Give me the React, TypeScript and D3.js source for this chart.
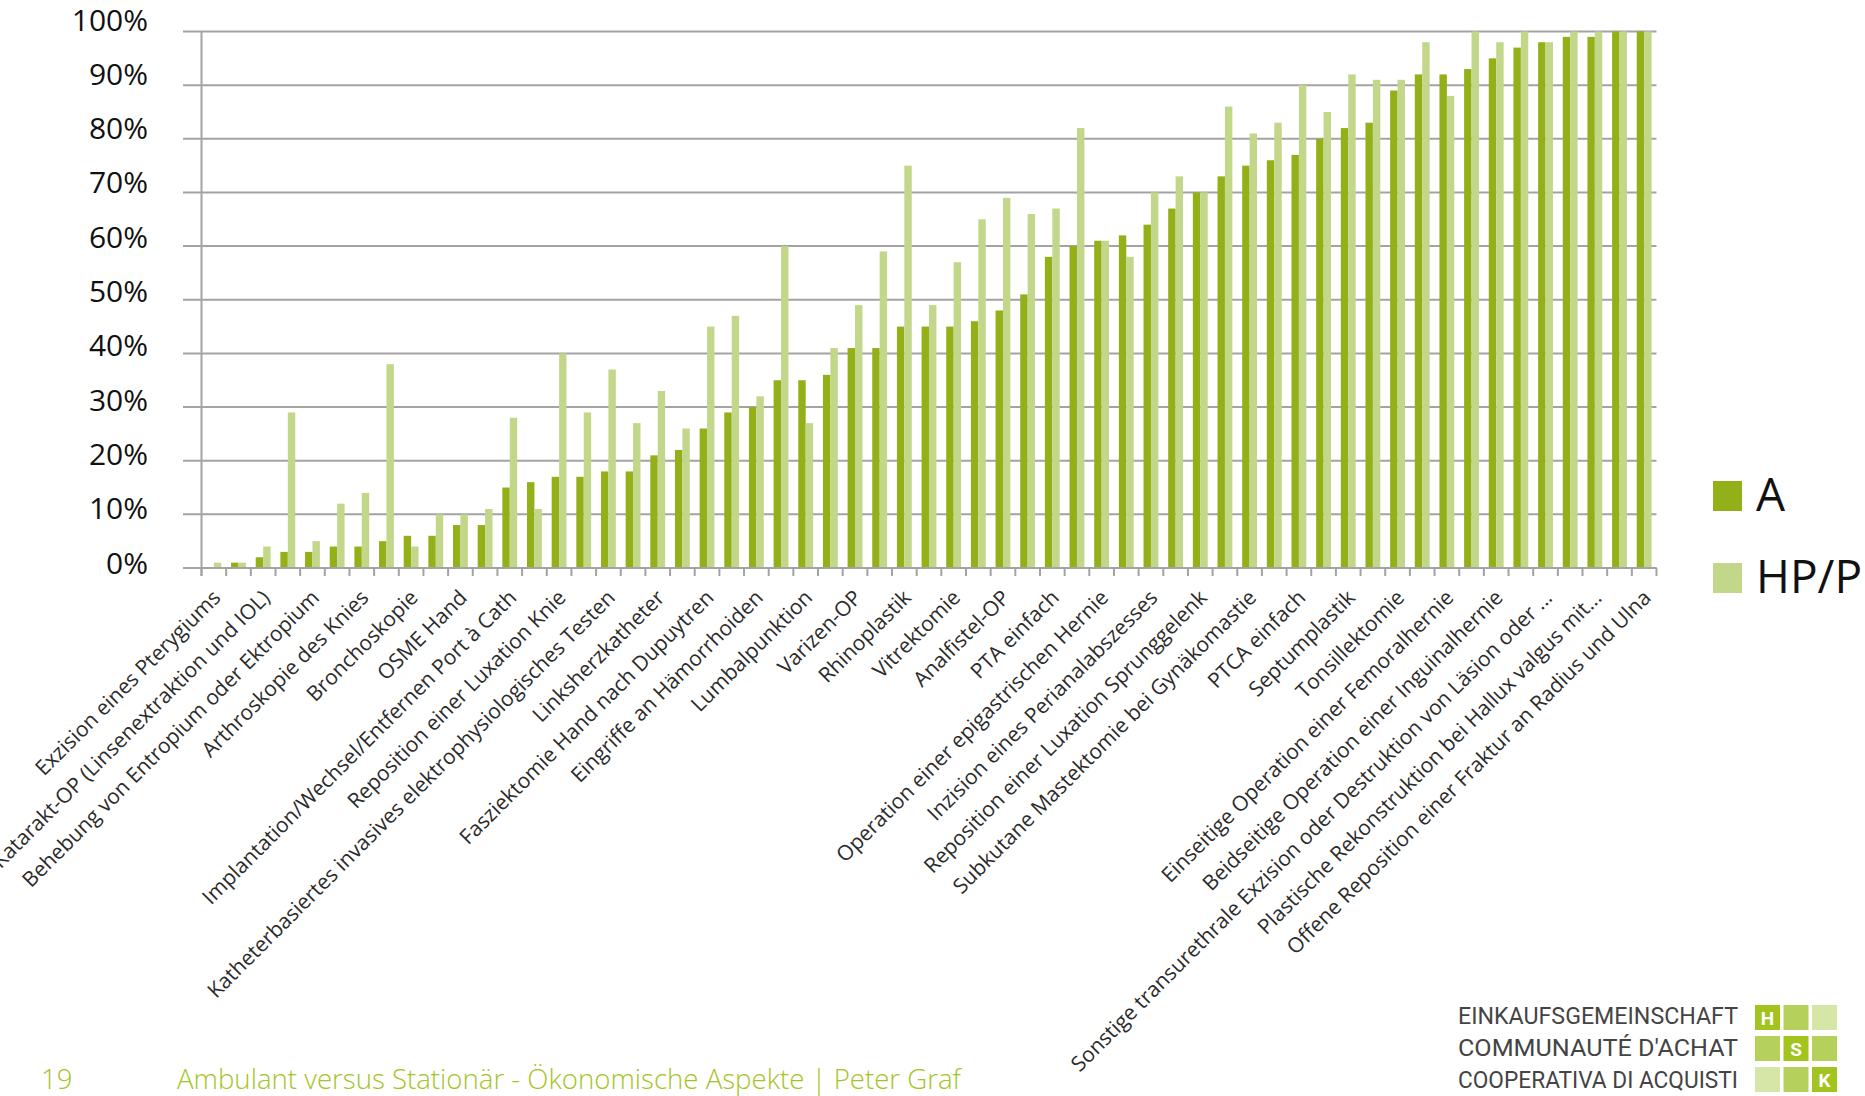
import React from "react";
import * as d3 from "d3";

// ---- data ----
const categoryLabels: string[] = [
  "Exzision eines Pterygiums", "",
  "Katarakt-OP (Linsenextraktion und IOL)", "",
  "Behebung von Entropium oder Ektropium", "",
  "Arthroskopie des Knies", "",
  "Bronchoskopie", "",
  "OSME Hand", "",
  "Implantation/Wechsel/Entfernen Port à Cath", "",
  "Reposition einer Luxation Knie", "",
  "Katheterbasiertes invasives elektrophysiologisches Testen", "",
  "Linksherzkatheter", "",
  "Fasziektomie Hand nach Dupuytren", "",
  "Eingriffe an Hämorrhoiden", "",
  "Lumbalpunktion", "",
  "Varizen-OP", "",
  "Rhinoplastik", "",
  "Vitrektomie", "",
  "Analfistel-OP", "",
  "PTA einfach", "",
  "Operation einer epigastrischen Hernie", "",
  "Inzision eines Perianalabszesses", "",
  "Reposition einer Luxation Sprunggelenk", "",
  "Subkutane Mastektomie bei Gynäkomastie", "",
  "PTCA einfach", "",
  "Septumplastik", "",
  "Tonsillektomie", "",
  "Einseitige Operation einer Femoralhernie", "",
  "Beidseitige Operation einer Inguinalhernie", "",
  "Sonstige transurethrale Exzision oder Destruktion von Läsion oder ...", "",
  "Plastische Rekonstruktion bei Hallux valgus mit...", "",
  "Offene Reposition einer Fraktur an Radius und Ulna",
];

const seriesNames = ["A", "HP/P"];

const valuesA: number[] = [
  0, 1, 2, 3, 3, 4, 4, 5, 6, 6,
  8, 8, 15, 16, 17, 17, 18, 18, 21, 22,
  26, 29, 30, 35, 35, 36, 41, 41, 45, 45,
  45, 46, 48, 51, 58, 60, 61, 62, 64, 67,
  70, 73, 75, 76, 77, 80, 82, 83, 89, 92,
  92, 93, 95, 97, 98, 99, 99, 100, 100,
];

const valuesHP: number[] = [
  1, 1, 4, 29, 5, 12, 14, 38, 4, 10,
  10, 11, 28, 11, 40, 29, 37, 27, 33, 26,
  45, 47, 32, 60, 27, 41, 49, 59, 75, 49,
  57, 65, 69, 66, 67, 82, 61, 58, 70, 73,
  70, 86, 81, 83, 90, 85, 92, 91, 91, 98,
  88, 100, 98, 100, 98, 100, 100, 100, 100,
];

const yTicks: number[] = [0, 10, 20, 30, 40, 50, 60, 70, 80, 90, 100];

const footerPage = "19";
const footerText = "Ambulant versus Stationär - Ökonomische Aspekte | Peter Graf";
const logoLines = ["EINKAUFSGEMEINSCHAFT", "COMMUNAUTÉ D'ACHAT", "COOPERATIVA DI ACQUISTI"];
const logoLetters = [["H", "", ""], ["", "S", ""], ["", "", "K"]];
const logoShades = [["#a3c31f", "#b6d05c", "#d6e6a6"], ["#b6d05c", "#a3c31f", "#b6d05c"], ["#d6e6a6", "#b6d05c", "#a3c31f"]];

// ---- styles ----
const W = 1865;
const H = 1096;
const colA = "#94b019";
const colHP = "#c3d78b";
const gridCol = "#a3a3a3";
const font = "'Open Sans', 'Noto Sans', sans-serif";

export default function App() {
  const left = 201.5;
  const right = 1656.5;
  const top = 31.5;
  const bottom = 568;

  const idx = d3.range(valuesA.length);
  const x = d3.scaleBand<number>().domain(idx).range([left, right]).paddingInner(0).paddingOuter(0);
  const xi = d3.scaleBand<string>().domain(seriesNames).range([0, x.bandwidth()]).paddingInner(0).paddingOuter(0.66);
  const y = d3.scaleLinear().domain([0, 100]).range([bottom, top]);
  const yLab = d3.scaleLinear().domain([0, 100]).range([562, 19]);

  const series = [
    { name: seriesNames[0], values: valuesA, color: colA },
    { name: seriesNames[1], values: valuesHP, color: colHP },
  ];

  const boundaries = d3.range(valuesA.length + 1).map((i) => left + i * x.step());

  return (
    <svg
      width={W}
      height={H}
      viewBox={`0 0 ${W} ${H}`}
      style={{ position: "absolute", left: 0, top: 0, background: "#fff" }}
    >
      <rect x={0} y={0} width={W} height={H} fill="#fff" />
      {/* gridlines */}
      {yTicks.map((t) => (
        <line key={"g" + t} x1={183} x2={right} y1={y(t)} y2={y(t)} stroke={gridCol} strokeWidth={2} />
      ))}
      {/* y tick labels */}
      {yTicks.map((t) => (
        <text
          key={"yl" + t}
          x={148}
          y={yLab(t)}
          textAnchor="end"
          dominantBaseline="central"
          fontFamily={font}
          fontSize={30}
          fill="#111"
        >
          {t + "%"}
        </text>
      ))}
      {/* bars */}
      {series.map((s) =>
        s.values.map((v, i) => (
          <rect
            key={s.name + i}
            x={(x(i) as number) + (xi(s.name) as number)}
            y={y(v)}
            width={xi.bandwidth()}
            height={bottom - y(v)}
            fill={s.color}
          />
        ))
      )}
      {/* axes */}
      <line x1={left} x2={left} y1={top} y2={bottom + 8} stroke={gridCol} strokeWidth={2} />
      <line x1={183} x2={right} y1={bottom} y2={bottom} stroke={gridCol} strokeWidth={2} />
      {boundaries.map((bx, i) => (
        <line key={"t" + i} x1={bx} x2={bx} y1={bottom} y2={bottom + 8} stroke={gridCol} strokeWidth={2} />
      ))}
      {/* category labels */}
      {categoryLabels.map((lab, i) =>
        lab ? (
          <text
            key={"c" + i}
            transform={`translate(${(x(i) as number) + x.bandwidth() / 2 + 8},${bottom + 31}) rotate(-45)`}
            textAnchor="end"
            fontFamily={font}
            fontSize={21}
            fill="#2b2b2b"
          >
            {lab}
          </text>
        ) : null
      )}
      {/* legend */}
      {series.map((s, i) => (
        <g key={"lg" + i} transform={`translate(1713,${481 + i * 82})`}>
          <rect x={0} y={0} width={29} height={30} fill={s.color} />
          <text x={43} y={30} fontFamily={font} fontSize={46} fill="#111">
            {s.name}
          </text>
        </g>
      ))}
      {/* footer */}
      <text x={41} y={1089} fontFamily={font} fontWeight={300} fontSize={27.6} fill="#a4c41f">
        {footerPage}
      </text>
      <text x={177} y={1089} fontFamily={font} fontWeight={300} fontSize={27.6} fill="#a4c41f">
        {footerText}
      </text>
      {/* logo */}
      {logoLines.map((l, i) => (
        <text
          key={"ll" + i}
          x={1458}
          y={1024 + i * 32}
          fontFamily="Roboto, 'DejaVu Sans', sans-serif"
          fontSize={24}
          fill="#444"
          textLength={280}
          lengthAdjust="spacingAndGlyphs"
        >
          {l}
        </text>
      ))}
      {logoShades.map((row, r) =>
        row.map((c, k) => (
          <g key={"sq" + r + k} transform={`translate(${1755 + k * 28.5},${1005 + r * 31})`}>
            <rect width={25} height={25} fill={c} />
            {logoLetters[r][k] ? (
              <text x={12.5} y={20} textAnchor="middle" fontFamily="Roboto, sans-serif" fontWeight={700} fontSize={19} fill="#fff">
                {logoLetters[r][k]}
              </text>
            ) : null}
          </g>
        ))
      )}
    </svg>
  );
}
